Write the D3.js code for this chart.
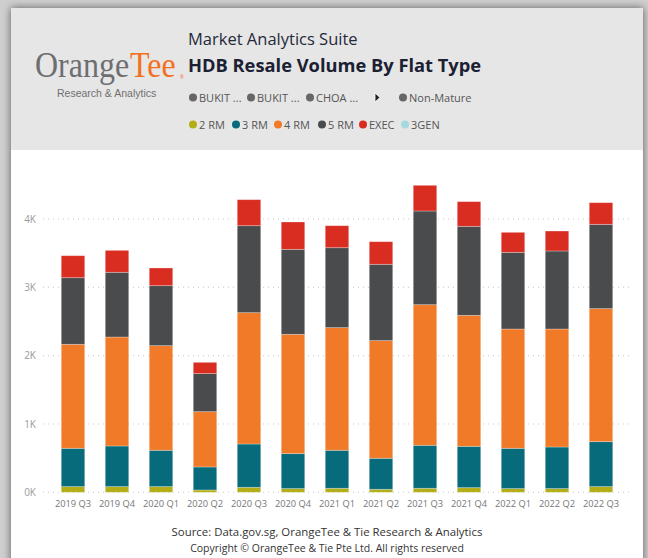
<!DOCTYPE html>
<html>
<head>
<meta charset="utf-8">
<script src="https://cdn.jsdelivr.net/npm/d3@7"></script>
<style>
  html, body { margin: 0; padding: 0; background: #cfcfcf; }
  svg { display: block; }
  text { font-family: "Segoe UI", "Open Sans", sans-serif; }
</style>
</head>
<body>
<svg id="chart" width="648" height="558"></svg>
<script>
// ---- data ----
const quarters = ["2019 Q3","2019 Q4","2020 Q1","2020 Q2","2020 Q3","2020 Q4","2021 Q1","2021 Q2","2021 Q3","2021 Q4","2022 Q1","2022 Q2","2022 Q3"];
const rm2  = [83, 83, 83, 34, 73, 54, 59, 44, 59, 68, 54, 54, 83];
const rm3  = [561, 595, 532, 337, 634, 512, 556, 454, 629, 605, 590, 609, 658];
const rm4  = [1522, 1595, 1531, 809, 1922, 1746, 1795, 1722, 2058, 1917, 1746, 1727, 1947];
const rm5  = [975, 947, 878, 557, 1273, 1244, 1170, 1117, 1371, 1303, 1122, 1142, 1234];
const exec = [322, 321, 259, 165, 381, 400, 322, 331, 376, 361, 293, 292, 317];
const gen3 = [0, 0, 0, 0, 0, 0, 0, 0, 0, 0, 0, 0, 0];
const seriesNames = ["2 RM","3 RM","4 RM","5 RM","EXEC","3GEN"];
const seriesColors = ["#b3ae18","#086b7b","#f07a27","#4a4b4d","#d92d22","#a7d8dc"];
const yTicks = [0, 1000, 2000, 3000, 4000];
const regionLegend = ["BUKIT ...","BUKIT ...","CHOA ..."];

const seriesVals = [rm2, rm3, rm4, rm5, exec, gen3];
const rows = quarters.map((q, i) => {
  const r = { q };
  seriesNames.forEach((s, k) => r[s] = seriesVals[k][i]);
  return r;
});

const svg = d3.select("#chart");

// ---- frame / card ----
const defs = svg.append("defs");
const f = defs.append("filter").attr("id", "sh").attr("x", "-10%").attr("y", "-10%").attr("width", "120%").attr("height", "120%");
f.append("feDropShadow").attr("dx", 0).attr("dy", 0).attr("stdDeviation", 4).attr("flood-color", "#000").attr("flood-opacity", 0.55);

svg.append("rect").attr("x", 11).attr("y", 8).attr("width", 632).attr("height", 600)
  .attr("fill", "#fff").attr("filter", "url(#sh)");
svg.append("rect").attr("x", 11).attr("y", 8).attr("width", 632).attr("height", 142)
  .attr("fill", "#e6e6e6");

// ---- logo ----
const serif = "'Liberation Serif', 'DejaVu Serif', serif";
const logo = svg.append("g").attr("transform", "translate(35,77) scale(1,1.1)");
logo.append("text").attr("x", 0).attr("y", 0).style("font-family", serif)
  .attr("font-size", 32).attr("fill", "#6d6e71").text("Orange");
logo.append("text").attr("x", 95).attr("y", 0).style("font-family", serif)
  .attr("font-size", 32).attr("fill", "#f37021").text("Tee");
svg.append("text").attr("x", 180).attr("y", 79).attr("font-size", 4.5).attr("fill", "#f37021").text("®");
svg.append("text").attr("x", 57).attr("y", 97).attr("font-size", 10.5).attr("fill", "#707070")
  .style("font-family", "Arial, 'Liberation Sans', sans-serif").text("Research & Analytics");

// ---- titles ----
svg.append("text").attr("x", 188).attr("y", 45).attr("font-size", 16.5).attr("fill", "#252a3a").text("Market Analytics Suite");
svg.append("text").attr("x", 188).attr("y", 72).attr("font-size", 18.3).attr("font-weight", "bold").attr("fill", "#1b2033").text("HDB Resale Volume By Flat Type");

// ---- legends ----
const lg1x = [193, 251, 310];
regionLegend.forEach((t, i) => {
  svg.append("circle").attr("cx", lg1x[i]).attr("cy", 97.5).attr("r", 4).attr("fill", "#666");
  svg.append("text").attr("x", lg1x[i] + 6).attr("y", 101.5).attr("font-size", 11).attr("fill", "#555").text(t);
});
svg.append("path").attr("d", "M375,93 L380,97.5 L375,102 Z").attr("fill", "#222").attr("stroke", "#fff").attr("stroke-width", 0.8);
svg.append("circle").attr("cx", 403).attr("cy", 97.5).attr("r", 4).attr("fill", "#666");
svg.append("text").attr("x", 409).attr("y", 101.5).attr("font-size", 11).attr("fill", "#555").text("Non-Mature");

const lg2x = [193, 236, 278, 322, 363, 405];
seriesNames.forEach((s, i) => {
  svg.append("circle").attr("cx", lg2x[i]).attr("cy", 124.5).attr("r", 4).attr("fill", seriesColors[i]);
  svg.append("text").attr("x", lg2x[i] + 6).attr("y", 128.5).attr("font-size", 11).attr("fill", "#555").text(s);
});

// ---- scales ----
const x = d3.scaleBand().domain(quarters).range([51, 623]).paddingInner(0.466).paddingOuter(0.233);
const y = d3.scaleLinear().domain([0, 4000]).range([492.3, 219]);

// grid
const grid = svg.append("g");
yTicks.forEach(t => {
  grid.append("line").attr("x1", 43).attr("x2", 630).attr("y1", y(t)).attr("y2", y(t))
    .attr("stroke", "#c8c8c8").attr("stroke-width", 1).attr("stroke-dasharray", "1,4");
});

// y axis
const yAxis = svg.append("g").attr("transform", "translate(38,0)")
  .call(d3.axisLeft(y).tickValues(yTicks).tickSize(0).tickPadding(2).tickFormat(d => (d / 1000) + "K"));
yAxis.select(".domain").remove();
yAxis.selectAll("text").attr("font-size", 10).attr("fill", "#9a9a9a").style("font-family", "'Segoe UI','Open Sans',sans-serif");

// x axis
const xAxis = svg.append("g").attr("transform", "translate(0,496)")
  .call(d3.axisBottom(x).tickSize(0).tickPadding(4));
xAxis.select(".domain").remove();
xAxis.selectAll("text").attr("font-size", 9.3).attr("fill", "#777").style("font-family", "'Segoe UI','Open Sans',sans-serif");

// stacked bars
const stack = d3.stack().keys(seriesNames)(rows);
svg.append("g").selectAll("g").data(stack).join("g")
  .attr("fill", (d, i) => seriesColors[i])
  .selectAll("rect").data(d => d).join("rect")
  .attr("x", d => x(d.data.q))
  .attr("width", x.bandwidth())
  .attr("y", d => y(d[1]))
  .attr("height", d => Math.max(0, y(d[0]) - y(d[1])))
  .attr("stroke", "#ffffff").attr("stroke-opacity", 0.35).attr("stroke-width", 0.8);

// footer
svg.append("text").attr("x", 327).attr("y", 536).attr("text-anchor", "middle").attr("font-size", 11.4).attr("fill", "#333").text("Source: Data.gov.sg, OrangeTee & Tie Research & Analytics");
svg.append("text").attr("x", 327).attr("y", 552).attr("text-anchor", "middle").attr("font-size", 10.5).attr("fill", "#333").text("Copyright © OrangeTee & Tie Pte Ltd. All rights reserved");
</script>
</body>
</html>
